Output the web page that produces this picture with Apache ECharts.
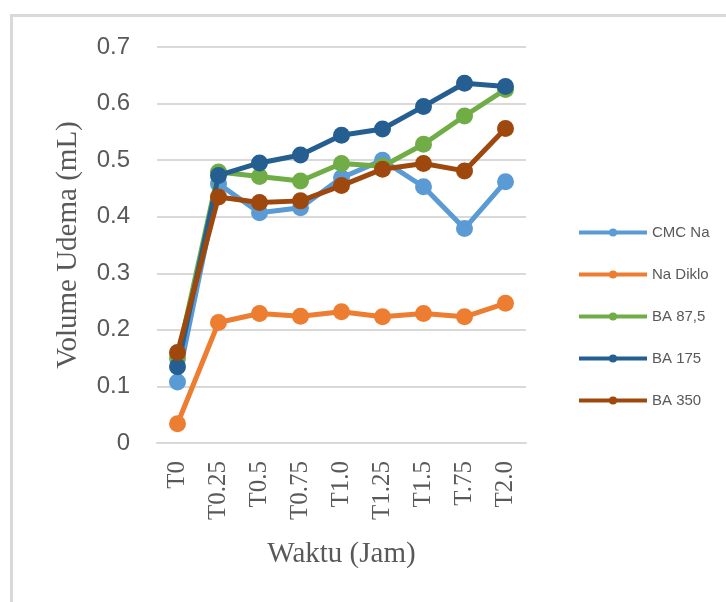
<!DOCTYPE html>
<html>
<head>
<meta charset="utf-8">
<script src="https://cdn.jsdelivr.net/npm/echarts@6/dist/echarts.min.js"></script>
<style>html,body{margin:0;padding:0;background:#fff;}#c{width:726px;height:602px;}</style>
</head>
<body>
<div id="c"></div>
<script>
const categories = ['T0','T0.25','T0.5','T0.75','T1.0','T1.25','T1.5','T.75','T2.0'];
const seriesNames = ['CMC Na','Na Diklo','BA 87,5','BA 175','BA 350'];
const cmcNa   = [0.108, 0.458, 0.407, 0.416, 0.469, 0.500, 0.453, 0.379, 0.462];
const naDiklo = [0.034, 0.213, 0.229, 0.224, 0.232, 0.223, 0.229, 0.223, 0.247];
const ba875   = [0.150, 0.479, 0.471, 0.463, 0.494, 0.489, 0.528, 0.578, 0.625];
const ba175   = [0.135, 0.473, 0.495, 0.509, 0.544, 0.555, 0.595, 0.636, 0.630];
const ba350   = [0.160, 0.435, 0.425, 0.428, 0.455, 0.484, 0.494, 0.481, 0.556];
const colors = ['#5B9BD5','#ED7D31','#70AD47','#255E91','#9E480E'];
const allData = [cmcNa, naDiklo, ba875, ba175, ba350];

const chart = echarts.init(document.getElementById('c'), null, {renderer:'canvas'});
chart.setOption({
  animation: false,
  backgroundColor: '#fff',
  graphic: [{
    type: 'rect', left: 9, top: 13,
    shape: {width: 800, height: 700},
    style: {fill: 'none', stroke: '#d9d9d9', lineWidth: 3}
  }],
  grid: {left: 157, right: 200, top: 47, bottom: 159, containLabel: false},
  legend: {
    orient: 'vertical', left: 572, top: 219,
    itemWidth: 68, itemHeight: 10, itemGap: 25,
    lineStyle: {width: 4},
    textStyle: {fontFamily: 'Liberation Sans', fontSize: 15, color: '#595959', lineHeight: 17},
    data: seriesNames
  },
  xAxis: {
    type: 'category', data: categories, boundaryGap: true,
    axisLine: {show: true, lineStyle: {color: '#d9d9d9', width: 2}},
    axisTick: {show: false},
    axisLabel: {rotate: 90, margin: 18, fontFamily: 'Liberation Serif', fontSize: 25, color: '#595959'},
    name: 'Waktu (Jam)', nameLocation: 'middle', nameGap: 97,
    nameTextStyle: {fontFamily: 'Liberation Serif', fontSize: 29, color: '#595959'}
  },
  yAxis: {
    type: 'value', min: 0, max: 0.7, interval: 0.1,
    axisLine: {show: false}, axisTick: {show: false},
    splitLine: {lineStyle: {color: '#d9d9d9', width: 2}},
    axisLabel: {margin: 27, fontFamily: 'Liberation Sans', fontSize: 24, color: '#595959',
      formatter: v => v === 0 ? '0' : v.toFixed(1)},
    name: 'Volume Udema (mL)', nameLocation: 'middle', nameGap: 74,
    nameTextStyle: {fontFamily: 'Liberation Serif', fontSize: 29, color: '#595959'}
  },
  series: seriesNames.map((n, i) => ({
    name: n, type: 'line', data: allData[i],
    symbol: 'circle', symbolSize: 17,
    lineStyle: {color: colors[i], width: 5},
    itemStyle: {color: colors[i]},
    z: 2 + i
  }))
});
</script>
</body>
</html>
